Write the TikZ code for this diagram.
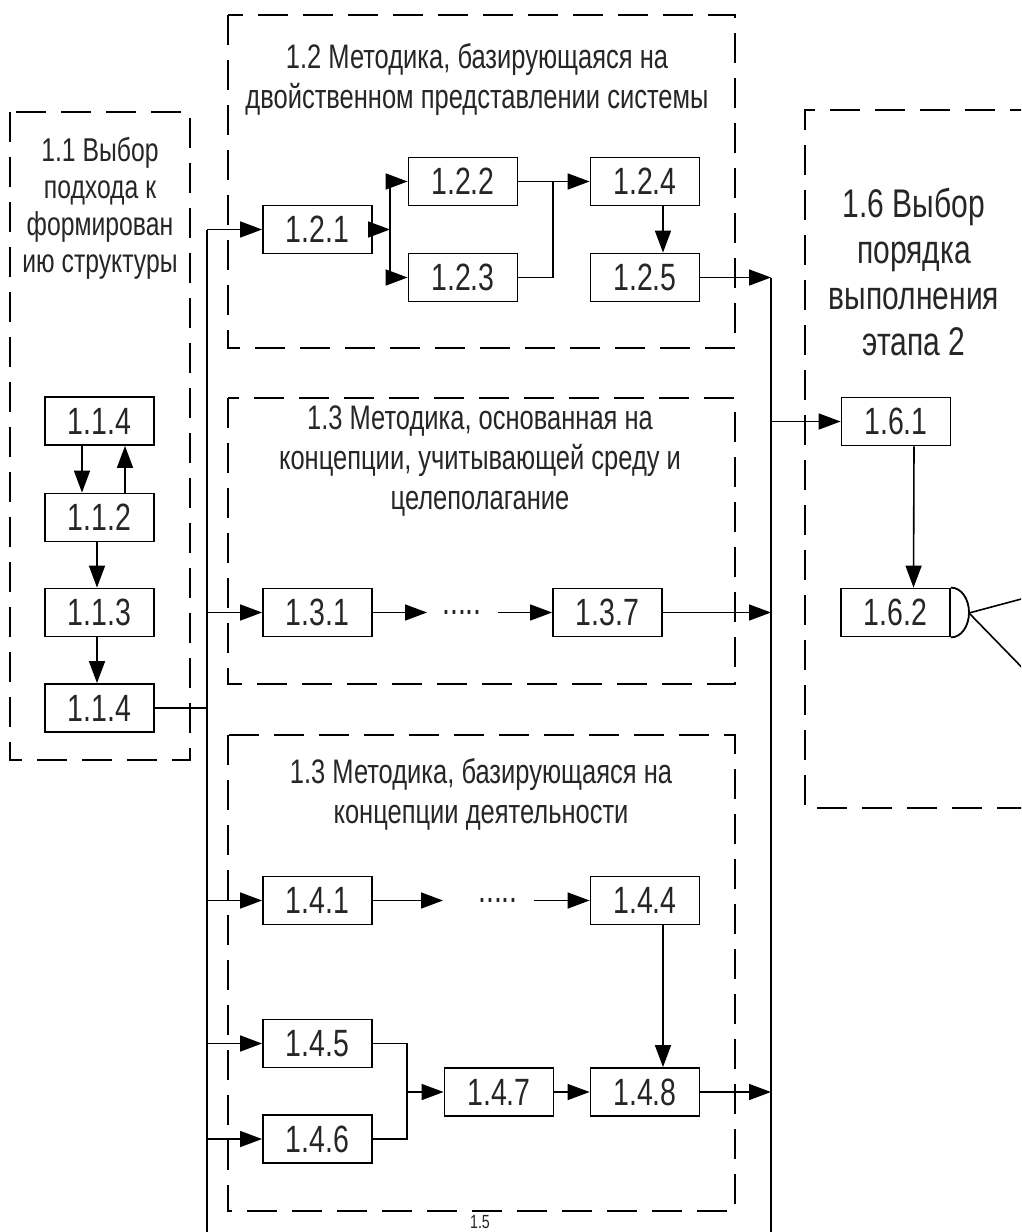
\documentclass[tikz,border=0pt]{standalone}
\usepackage{fontspec}
\setmainfont[FakeStretch=0.75]{Liberation Sans}
\usetikzlibrary{arrows.meta,calc}
\begin{document}
\begin{tikzpicture}[x=1pt,y=-1pt,
  box/.style={draw, line width=1.8pt, minimum width=109pt, minimum height=48pt, inner sep=0pt, text=black!85, font=\fontsize{38}{40}\selectfont},
  ttl/.style={align=center, inner sep=0pt, text=black!85, font=\fontsize{34}{40}\selectfont},
  ttlA/.style={align=center, inner sep=0pt, text=black!85, font=\fontsize{33}{37}\selectfont},
  ttlB/.style={align=center, inner sep=0pt, text=black!85, font=\fontsize{40}{46}\selectfont},
  dbox/.style={line width=1.8pt, dash pattern=on 30pt off 15pt},
  conn/.style={line width=1.6pt},
  arr/.style={line width=1.6pt, -{Triangle[length=22pt,width=16pt]}},
  dots/.style={inner sep=0pt, text=black!85, font=\fontsize{38}{40}\selectfont}
]
\useasboundingbox (0,0) rectangle (1021,1232);
\clip (0,0) rectangle (1021,1232);
\fill[white] (0,0) rectangle (1021,1232);

% dashed containers
\draw[dbox] (10,112) rectangle (190,760);
\draw[dbox] (228,15) rectangle (735,348);
\draw[dbox] (228,398) rectangle (735,684);
\draw[dbox] (228,735) rectangle (735,1211);
\draw[dbox] (1040,110) -- (805,110) -- (805,808) -- (1040,808);

% titles
\node[ttlA] (t11) at (100,208) {1.1 Выбор\\подхода к\\формирован\\ию структуры};
\node[ttl] (t12) at (477,80) {1.2 Методика, базирующаяся на\\двойственном представлении системы};
\node[ttl] (t13) at (480,461) {1.3 Методика, основанная на\\концепции, учитывающей среду и\\целеполагание};
\node[ttl] (t14) at (481,794) {1.3 Методика, базирующаяся на\\концепции деятельности};
\node[ttlB] (t16) at (914,272) {1.6 Выбор\\порядка\\выполнения\\этапа 2};
\node[inner sep=0pt, text=black!85, font=\fontsize{19}{20}\selectfont] (t15) at (480,1222) {1.5};

% bus coordinates
\coordinate (lbus) at (207,0);
\coordinate (rbus) at (771,0);
\coordinate (bot) at (0,1245);
\coordinate (j1) at (390,0);
\coordinate (j2) at (553,0);
\coordinate (j3) at (407,0);

% 1.1 nodes
\node[box] (n114a) at (99.5,421) {1.1.4};
\node[box] (n112) at (99.5,517.5) {1.1.2};
\node[box] (n113) at (99.5,612.5) {1.1.3};
\node[box] (n114b) at (99.5,708) {1.1.4};

% 1.2 nodes
\node[box] (n121) at (317.5,229.5) {1.2.1};
\node[box] (n122) at (463,181.5) {1.2.2};
\node[box] (n123) at (463,277.5) {1.2.3};
\node[box] (n124) at (645,181.5) {1.2.4};
\node[box] (n125) at (645,277.5) {1.2.5};

% 1.3 nodes
\node[box] (n131) at (317.5,612.5) {1.3.1};
\node[dots] (d13) at (462,612.5) {.....};
\node[box] (n137) at (607.5,612.5) {1.3.7};

% 1.4 nodes
\node[box] (n141) at (317.5,900.5) {1.4.1};
\node[dots] (d14) at (498,900.5) {.....};
\node[box] (n144) at (645,900.5) {1.4.4};
\node[box] (n145) at (317.5,1043.5) {1.4.5};
\node[box] (n146) at (317.5,1139) {1.4.6};
\node[box] (n147) at (499,1092) {1.4.7};
\node[box] (n148) at (645,1092) {1.4.8};

% 1.6 nodes
\node[box] (n161) at (896,421.5) {1.6.1};
\node[box] (n162) at (895.5,612.5) {1.6.2};
\draw[line width=1.8pt] (n162.north east) .. controls +(10.5,0) and (969,599) .. (969,612.5)
  .. controls (969,626) and ($(n162.south east)+(10.5,0)$) .. (n162.south east);
\coordinate (tip) at (969,613);
\draw[conn] (tip) -- (1040,594);
\draw[conn] (tip) -- (1040,686);

% buses
\draw[conn] (n121.west -| lbus) -- (lbus |- bot);
\draw[conn] (n125.east -| rbus) -- (rbus |- bot);

% 1.1 connectors
\draw[arr] ([xshift=-17.5pt]n114a.south) -- ([xshift=-17.5pt]n112.north);
\draw[arr] ([xshift=25.5pt]n112.north) -- ([xshift=25.5pt]n114a.south);
\draw[arr] ([xshift=-2.5pt]n112.south) -- ([xshift=-2.5pt]n113.north);
\draw[arr] ([xshift=-2.5pt]n113.south) -- ([xshift=-2.5pt]n114b.north);
\draw[conn] (n114b.east) -- (n114b.east -| lbus);

% 1.2 connectors
\draw[arr] (n121.west -| lbus) -- (n121.west);
\draw[arr] (n121.east) -- (n121.east -| j1);
\draw[conn] (n122.west -| j1) -- (n123.west -| j1);
\draw[arr] (n122.west -| j1) -- (n122.west);
\draw[arr] (n123.west -| j1) -- (n123.west);
\draw[conn] (n122.east) -- (n122.east -| j2);
\draw[conn] (n123.east) -- (n123.east -| j2) -- (n122.east -| j2);
\draw[arr] (n124.west -| j2) -- (n124.west);
\draw[arr] ([xshift=18pt]n124.south) -- ([xshift=18pt]n125.north);
\draw[arr] (n125.east) -- (n125.east -| rbus);

% 1.3 connectors
\draw[arr] (n131.west -| lbus) -- (n131.west);
\draw[arr] (n131.east) -- ([xshift=-15pt]d13.west);
\draw[arr] ([xshift=16pt]d13.east) -- (n137.west);
\draw[arr] (n137.east) -- (n137.east -| rbus);

% 1.4 connectors
\draw[arr] (n141.west -| lbus) -- (n141.west);
\draw[arr] (n141.east) -- ([xshift=-35pt]d14.west);
\draw[arr] ([xshift=16pt]d14.east) -- (n144.west);
\draw[arr] ([xshift=18pt]n144.south) -- ([xshift=18pt]n148.north);
\draw[arr] (n145.west -| lbus) -- (n145.west);
\draw[arr] (n146.west -| lbus) -- (n146.west);
\draw[conn] (n145.east) -- (n145.east -| j3) -- (n146.east -| j3) -- (n146.east);
\draw[arr] (n147.west -| j3) -- (n147.west);
\draw[arr] (n147.east) -- (n148.west);
\draw[arr] (n148.east) -- (n148.east -| rbus);

% 1.6 connectors
\draw[arr] (n161.west -| rbus) -- (n161.west);
\draw[arr] ([xshift=18pt]n161.south) -- ([xshift=18pt]n162.north);
\end{tikzpicture}
\end{document}
